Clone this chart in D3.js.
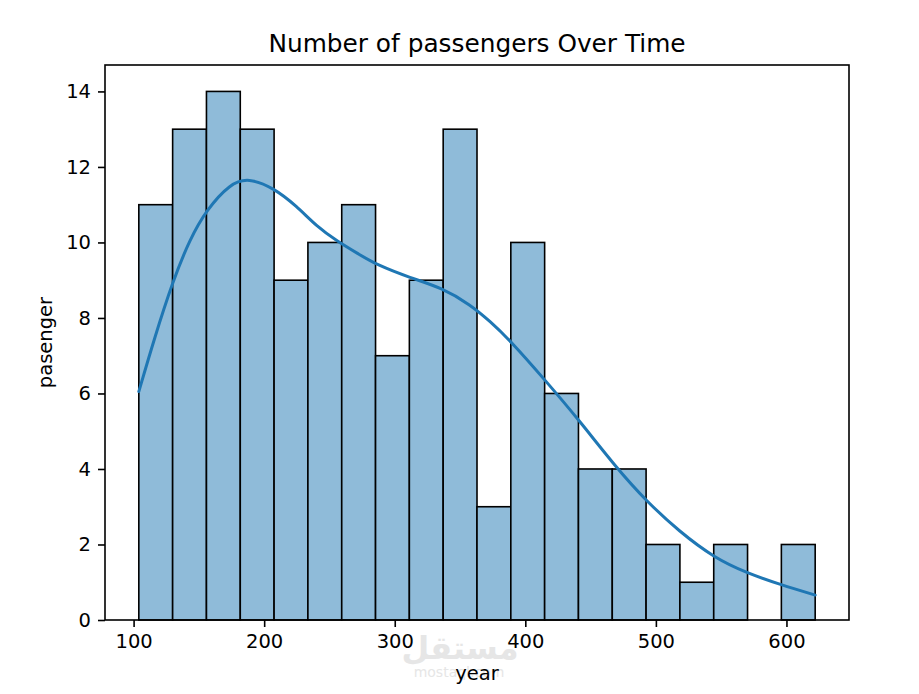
<!DOCTYPE html>
<html>
<head>
<meta charset="utf-8">
<script src="https://cdn.jsdelivr.net/npm/d3@7"></script>
<style>
  body { margin: 0; background: #fff; }
  svg { display: block; font-family: "DejaVu Sans", sans-serif; }
</style>
</head>
<body>
<div id="chart"></div>
<script>
// Seaborn-style histogram of passenger counts with a KDE overlay.

const binStart = 104;
const binWidth = 25.9;
const counts = [11, 13, 14, 13, 9, 10, 11, 7, 9, 13, 3, 10, 6, 4, 4, 2, 1, 2, 0, 2];

// KDE curve (year, count-scaled density)
const kdeYears = [104, 116, 130, 143, 156, 174, 188, 207, 225, 240, 256, 273, 286, 312, 336, 358, 373, 388, 415, 441, 470, 493, 518, 545, 570, 596, 622];
const kdeVals  = [6.05, 7.47, 8.97, 10.08, 10.87, 11.56, 11.71, 11.45, 10.96, 10.43, 10.03, 9.68, 9.41, 9.06, 8.80, 8.35, 7.91, 7.42, 6.36, 5.30, 4.02, 3.14, 2.34, 1.64, 1.24, 0.93, 0.66];

const xTicks = [100, 200, 300, 400, 500, 600];
const yTicks = [0, 2, 4, 6, 8, 10, 12, 14];

const W = 919, H = 694;
const margin = { top: 65, right: 70, bottom: 74, left: 105 };

const svg = d3.select('#chart').append('svg')
  .attr('width', W).attr('height', H)
  .attr('viewBox', `0 0 ${W} ${H}`);

svg.append('rect').attr('width', W).attr('height', H).attr('fill', '#fff');

const x = d3.scaleLinear().domain([78.1, 647.9]).range([margin.left, W - margin.right]);
const y = d3.scaleLinear().domain([0, 14.7]).range([H - margin.bottom, margin.top]);

const bins = counts.map((c, i) => ({ x0: binStart + i * binWidth, x1: binStart + (i + 1) * binWidth, n: c }));

// bars
svg.append('g').selectAll('rect').data(bins.filter((d) => d.n > 0)).enter().append('rect')
  .attr('x', (d) => x(d.x0)).attr('width', (d) => x(d.x1) - x(d.x0))
  .attr('y', (d) => y(d.n)).attr('height', (d) => y(0) - y(d.n))
  .attr('fill', '#8fbbd9').attr('stroke', '#000').attr('stroke-width', 1.6);

// kde
const pts = kdeYears.map((yr, i) => [yr, kdeVals[i]]);
svg.append('path').datum(pts)
  .attr('d', d3.line().x((d) => x(d[0])).y((d) => y(d[1])).curve(d3.curveBasis))
  .attr('fill', 'none').attr('stroke', '#1f77b4').attr('stroke-width', 3)
  .attr('stroke-linecap', 'round');

// axes
const xAxis = svg.append('g').attr('transform', `translate(0, ${H - margin.bottom})`)
  .call(d3.axisBottom(x).tickValues(xTicks).tickSize(7).tickPadding(7));
const yAxis = svg.append('g').attr('transform', `translate(${margin.left}, 0)`)
  .call(d3.axisLeft(y).tickValues(yTicks).tickSize(7).tickPadding(7));
[xAxis, yAxis].forEach((a) => {
  a.select('.domain').remove();
  a.selectAll('line').attr('stroke', '#000').attr('stroke-width', 1.6);
  a.selectAll('text').attr('fill', '#000').style('font-size', '19.5px').style('font-family', '"DejaVu Sans", sans-serif');
});

// frame
svg.append('rect')
  .attr('x', margin.left).attr('y', margin.top)
  .attr('width', W - margin.left - margin.right).attr('height', H - margin.top - margin.bottom)
  .attr('fill', 'none').attr('stroke', '#000').attr('stroke-width', 1.6);

// watermark (faint, sits behind the x label)
svg.append('text').attr('x', 460).attr('y', 659).attr('text-anchor', 'middle')
  .style('font-size', '32px').style('font-weight', 'bold').attr('fill', '#e6e6e6')
  .text('مستقل');
svg.append('text').attr('x', 459).attr('y', 677).attr('text-anchor', 'middle')
  .style('font-size', '14px').attr('fill', '#e6e6e6')
  .text('mostaql.com');

// labels
svg.append('text').attr('x', (margin.left + W - margin.right) / 2).attr('y', 52)
  .attr('text-anchor', 'middle').style('font-size', '24.8px').text('Number of passengers Over Time');
svg.append('text').attr('x', (margin.left + W - margin.right) / 2).attr('y', 680)
  .attr('text-anchor', 'middle').style('font-size', '19.5px').text('year');
svg.append('text')
  .attr('transform', `translate(52, ${(margin.top + H - margin.bottom) / 2}) rotate(-90)`)
  .attr('text-anchor', 'middle').style('font-size', '19.5px').text('pasenger');
</script>
</body>
</html>
